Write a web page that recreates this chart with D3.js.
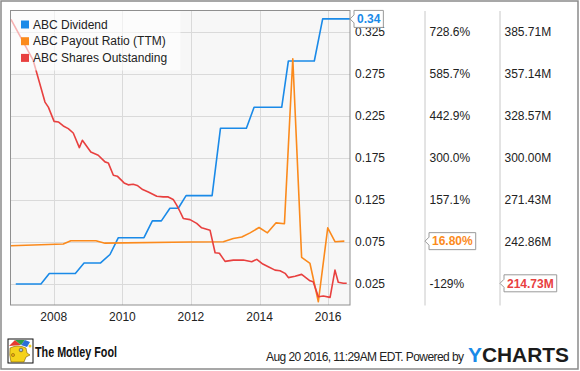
<!DOCTYPE html>
<html>
<head>
<meta charset="utf-8">
<script src="https://cdn.jsdelivr.net/npm/d3@7"></script>
<style>
    body { margin: 0; background: #fff; }
    svg { display: block; font-family: "Liberation Sans", Arial, sans-serif; }
</style>
</head>
<body>
<svg id="chart" width="580" height="371"></svg>
<script>
// dividend per share (quarterly steps)
const dividendDates = ["2006-11-23", "2007-08-18", "2007-11-15", "2008-08-18", "2008-11-19", "2009-05-14", "2009-08-22", "2009-11-19",
    "2010-08-19", "2010-11-16", "2011-02-20", "2011-05-22", "2011-08-19", "2011-11-10", "2012-08-13", "2012-11-10",
    "2013-08-13", "2013-11-03", "2014-08-24", "2014-11-03", "2015-08-06", "2015-11-03", "2016-08-20"];
const dividendValues = [0.025, 0.025, 0.0375, 0.0375, 0.05, 0.05, 0.06, 0.08,
    0.08, 0.10, 0.10, 0.115, 0.115, 0.13, 0.13, 0.21,
    0.21, 0.235, 0.235, 0.29, 0.29, 0.34, 0.34];

// payout ratio (TTM), percent
const payoutDates = ["2006-10-03", "2008-04-12", "2008-07-01", "2009-03-25", "2009-06-30", "2011-12-22", "2012-12-11", "2013-03-27",
    "2013-06-25", "2013-09-21", "2013-12-26", "2014-03-25", "2014-06-25", "2014-09-22", "2014-12-20", "2015-03-24",
    "2015-06-21", "2015-09-18", "2015-12-27", "2016-03-13", "2016-06-21"];
const payoutValues = [1, 7, 18, 18, 10, 14, 15, 26,
    31, 45, 63, 45, 79, 76, 636, -38,
    -59, -189, 62, 15, 16.8];

// shares outstanding, millions
const sharesDates = ["2006-10-03", "2007-05-28", "2007-09-30", "2007-11-05", "2008-01-05", "2008-02-19", "2008-04-12", "2008-06-04",
    "2008-07-27", "2008-09-30", "2008-11-01", "2009-01-30", "2009-04-19", "2009-06-30", "2009-08-04", "2009-09-27",
    "2009-11-08", "2010-01-19", "2010-03-04", "2010-04-26", "2010-06-08", "2010-08-05", "2010-10-04", "2011-01-02",
    "2011-03-11", "2011-05-04", "2011-06-26", "2011-08-02", "2011-09-06", "2011-10-11", "2011-12-22", "2012-03-02",
    "2012-04-24", "2012-07-22", "2012-09-14", "2012-10-30", "2012-12-29", "2013-03-27", "2013-07-11", "2013-10-09",
    "2013-12-02", "2014-02-04", "2014-04-03", "2014-06-14", "2014-08-06", "2014-09-29", "2014-11-03", "2015-01-13",
    "2015-03-24", "2015-06-21", "2015-07-25", "2015-09-18", "2015-11-10", "2016-01-21", "2016-03-13", "2016-04-17",
    "2016-06-10", "2016-07-16"];
const sharesValues = [393.9, 366.1, 337.8, 334.4, 324.7, 324.3, 321.6, 319.8,
    316.8, 306.9, 311.9, 303.9, 301.7, 297.2, 296.5, 288.1,
    287.5, 282.9, 281.6, 282.0, 281.2, 278.4, 276.8, 273.9,
    273.4, 273.4, 271.7, 267.8, 263.5, 258.8, 258.0, 255.4,
    252.4, 250.8, 235.5, 235.1, 229.6, 230.5, 230.5, 229.4,
    231.0, 227.8, 226.0, 223.7, 223.3, 221.5, 218.6, 219.5,
    220.8, 216.4, 215.8, 205.6, 206.1, 205.2, 223.7, 215.4,
    214.73, 214.73];

// tick labels (the ones hidden behind the last-value flags are left out)
const dividendTicks = [0.025, 0.075, 0.125, 0.175, 0.225, 0.275, 0.325];
const payoutTicks = [-128.57, 157.14, 300, 442.86, 585.71, 728.57];
const payoutTickLabels = ["-129%", "157.1%", "300.0%", "442.9%", "585.7%", "728.6%"];
const sharesTicks = [242.86, 271.43, 300, 328.57, 357.14, 385.71];
const sharesTickLabels = ["242.86M", "271.43M", "300.00M", "328.57M", "357.14M", "385.71M"];
const yearTicks = ["2008", "2010", "2012", "2014", "2016"];

const seriesNames = ["ABC Dividend", "ABC Payout Ratio (TTM)", "ABC Shares Outstanding"];
const colors = ["#1a8ae8", "#fb8a1c", "#e8403f"];

const parse = d3.timeParse("%Y-%m-%d");
const svg = d3.select("#chart");

const plotLeft = 10.5, plotRight = 350, plotTop = 10.5, plotBottom = 305;

const x = d3.scaleTime()
    .domain([parse("2006-09-28"), parse("2016-08-20")])
    .range([plotLeft, plotRight]);
const y = d3.scaleLinear().domain([0, 0.35]).range([plotBottom, plotTop]);
const yPay = d3.scaleLinear().domain([-200, 800]).range([plotBottom, plotTop]);
const yShares = d3.scaleLinear().domain([200, 400]).range([plotBottom, plotTop]);

// outer frame
svg.append("rect")
    .attr("x", 1).attr("y", 1)
    .attr("width", 577).attr("height", 368)
    .attr("fill", "#fff")
    .attr("stroke", "#8a8a8a")
    .attr("stroke-width", 1.5);

// plot background
svg.append("rect")
    .attr("x", plotLeft).attr("y", plotTop)
    .attr("width", plotRight - plotLeft).attr("height", plotBottom - plotTop)
    .attr("fill", "#f7f7f7");

// grid
svg.append("g")
    .selectAll("line")
    .data(dividendTicks)
    .join("line")
    .attr("x1", plotLeft).attr("x2", plotRight)
    .attr("y1", d => Math.round(y(d)) + 0.5)
    .attr("y2", d => Math.round(y(d)) + 0.5)
    .attr("stroke", "#dadada");

svg.append("g")
    .selectAll("line")
    .data(yearTicks)
    .join("line")
    .attr("x1", d => Math.round(x(parse(d + "-01-01"))) + 0.5)
    .attr("x2", d => Math.round(x(parse(d + "-01-01"))) + 0.5)
    .attr("y1", plotTop).attr("y2", plotBottom)
    .attr("stroke", "#dadada");

// lines
const series = [
    dividendDates.map((d, i) => [x(parse(d)), y(dividendValues[i])]),
    payoutDates.map((d, i) => [x(parse(d)), yPay(payoutValues[i])]),
    sharesDates.map((d, i) => [x(parse(d)), yShares(sharesValues[i])])
];

svg.append("g")
    .selectAll("path")
    .data(series)
    .join("path")
    .attr("d", d3.line())
    .attr("fill", "none")
    .attr("stroke", (d, i) => colors[i])
    .attr("stroke-width", 1.6)
    .attr("stroke-linejoin", "round");

// legend
const legend = svg.append("g");
legend.append("rect")
    .attr("x", plotLeft).attr("y", plotTop)
    .attr("width", 170).attr("height", 60)
    .attr("fill", "#fff")
    .attr("fill-opacity", 0.6);

const items = legend.selectAll("g")
    .data(seriesNames)
    .join("g")
    .attr("transform", (d, i) => `translate(21,${20.5 + i * 16.7})`);
items.append("rect")
    .attr("width", 8).attr("height", 8)
    .attr("fill", (d, i) => colors[i]);
items.append("text")
    .attr("x", 12).attr("y", 8)
    .attr("font-size", 12)
    .attr("fill", "#222")
    .text(d => d);

// plot border
svg.append("rect")
    .attr("x", plotLeft).attr("y", plotTop)
    .attr("width", plotRight - plotLeft).attr("height", plotBottom - plotTop)
    .attr("fill", "none")
    .attr("stroke", "#8f8f8f");

// x axis labels
svg.append("g")
    .selectAll("text")
    .data(yearTicks)
    .join("text")
    .attr("x", d => x(parse(d + "-01-01")))
    .attr("y", 321)
    .attr("text-anchor", "middle")
    .attr("font-size", 12)
    .attr("fill", "#222")
    .text(d => d);

// right axes
function styleAxis(g, domainColor) {
    g.select(".domain").attr("stroke", domainColor);
    g.selectAll("text").attr("font-size", 12).attr("fill", "#222").attr("font-family", "Liberation Sans, Arial, sans-serif");
}

svg.append("g")
    .attr("transform", `translate(${plotRight},0)`)
    .call(d3.axisRight(y).tickValues(dividendTicks).tickSize(0).tickPadding(5).tickFormat(d3.format(".3f")))
    .call(g => styleAxis(g, "none"));

svg.append("g")
    .attr("transform", `translate(424.5,0)`)
    .call(d3.axisRight(yPay).tickValues(payoutTicks).tickSize(0).tickPadding(5).tickFormat((d, i) => payoutTickLabels[i]))
    .call(g => styleAxis(g, "#c8c8c8"));

svg.append("g")
    .attr("transform", `translate(499.5,0)`)
    .call(d3.axisRight(yShares).tickValues(sharesTicks).tickSize(0).tickPadding(5).tickFormat((d, i) => sharesTickLabels[i]))
    .call(g => styleAxis(g, "#c8c8c8"));

// last value flags
function flag(x0, yv, label, color) {
    const g = svg.append("g");
    const box = g.append("path");
    const t = g.append("text")
        .attr("x", x0 + 7).attr("y", yv)
        .attr("dy", "0.35em")
        .attr("font-size", 12)
        .attr("font-weight", "bold")
        .attr("fill", color)
        .text(label);
    const w = t.node().getComputedTextLength() + 6;
    const l = x0 + 4, h = 8.5;
    box.attr("d", `M${x0},${yv} L${l},${yv - 4} L${l},${yv - h} L${l + w},${yv - h} L${l + w},${yv + h} L${l},${yv + h} L${l},${yv + 4} Z`)
        .attr("fill", "#fff")
        .attr("stroke", "#9a9a9a");
}

flag(350, y(dividendValues[dividendValues.length - 1]), "0.34", colors[0]);
flag(425, yPay(payoutValues[payoutValues.length - 1]), "16.80%", colors[1]);
flag(500, yShares(sharesValues[sharesValues.length - 1]), "214.73M", colors[2]);

// footer: Motley Fool jester
const jester = svg.append("g").attr("transform", "translate(8,339)");
jester.append("rect").attr("width", 25).attr("height", 24).attr("fill", "#fff").attr("stroke", "#111").attr("stroke-width", 1);
jester.append("path").attr("d", "M1,7 L7,1 L13,6 Z").attr("fill", "#e53b2e");
jester.append("path").attr("d", "M7,1 L13,6 L17,1 Z").attr("fill", "#2f9e44");
jester.append("path").attr("d", "M13,6 L17,1 L22,3 L19,8 Z").attr("fill", "#2a6fd6");
jester.append("path").attr("d", "M2,9 Q10,5 18,9 L19,14 L22,16 L18,18 L16,23 L3,23 Q1,16 2,9 Z").attr("fill", "#f5d21c").attr("stroke", "#7a5a00").attr("stroke-width", 0.6);
jester.append("circle").attr("cx", 13).attr("cy", 11).attr("r", 1.8).attr("fill", "#fff").attr("stroke", "#222").attr("stroke-width", 0.6);
jester.append("circle").attr("cx", 13).attr("cy", 11).attr("r", 0.8).attr("fill", "#2a6fd6");
jester.append("circle").attr("cx", 5).attr("cy", 16).attr("r", 1.6).attr("fill", "#e8a317").attr("stroke", "#7a5a00").attr("stroke-width", 0.5);
jester.append("circle").attr("cx", 22).attr("cy", 7).attr("r", 1.5).attr("fill", "#f5d21c");

svg.append("text")
    .attr("x", 35).attr("y", 357)
    .attr("font-size", 14)
    .attr("font-weight", "bold")
    .attr("fill", "#111")
    .attr("textLength", 82)
    .attr("lengthAdjust", "spacingAndGlyphs")
    .text("The Motley Fool");

svg.append("text")
    .attr("x", 266).attr("y", 361)
    .attr("font-size", 12)
    .attr("fill", "#222")
    .attr("textLength", 198)
    .attr("lengthAdjust", "spacing")
    .text("Aug 20 2016, 11:29AM EDT.  Powered by");

const yc = svg.append("text")
    .attr("x", 468).attr("y", 362)
    .attr("font-size", 21)
    .attr("font-weight", "bold")
    .attr("fill", "#1b1b1b")
    .attr("textLength", 101)
    .attr("lengthAdjust", "spacingAndGlyphs");
yc.append("tspan").attr("fill", "#1a8ae8").text("Y");
yc.append("tspan").text("CHARTS");
</script>
</body>
</html>
